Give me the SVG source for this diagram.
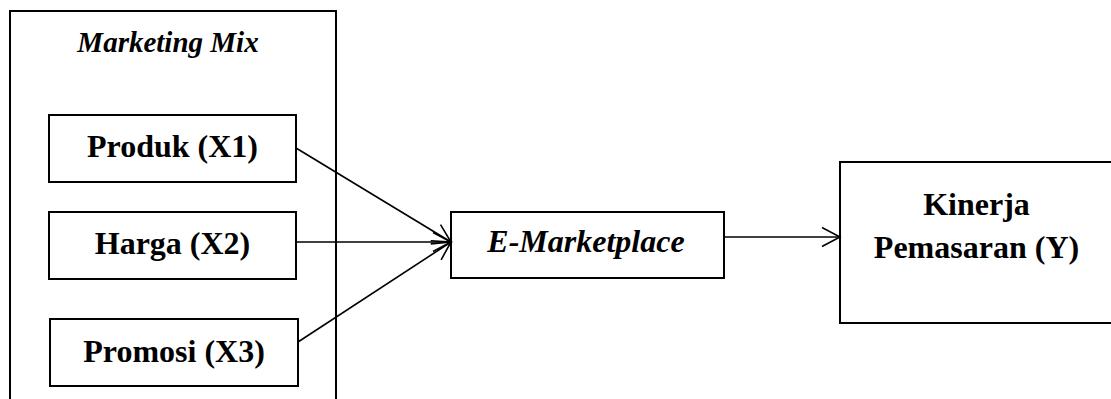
<svg xmlns="http://www.w3.org/2000/svg" width="1111" height="399" viewBox="0 0 1111 399">
  <style>
    .box { fill: #ffffff; stroke: #000000; stroke-width: 2; }
    .lbl { font-family: "Liberation Serif", "Times New Roman", serif; font-weight: bold; font-size: 32px; fill: #000000; text-anchor: middle; }
    .ital { font-style: italic; }
    .conn { stroke: #000000; stroke-width: 1.6; fill: none; marker-end: url(#arrow); }
  </style>
  <defs>
    <marker id="arrow" markerUnits="userSpaceOnUse" markerWidth="22" markerHeight="22" viewBox="0 0 22 22" refX="20" refY="11" orient="auto">
      <path d="M2,1.5 L20,11 L2,20.5" fill="none" stroke="#000000" stroke-width="1.6"/>
    </marker>
  </defs>
  <rect width="1111" height="399" fill="#ffffff"/>

  <g id="marketing-mix">
    <rect class="box" x="10" y="11" width="326" height="400"/>
    <text class="lbl ital" x="168" y="52" style="font-size:29px">Marketing Mix</text>
  </g>

  <g id="produk">
    <rect class="box" x="49" y="115" width="247" height="67"/>
    <text class="lbl" x="172.5" y="157">Produk (X1)</text>
  </g>

  <g id="harga">
    <rect class="box" x="49" y="212" width="247" height="67"/>
    <text class="lbl" x="172.5" y="254">Harga (X2)</text>
  </g>

  <g id="promosi">
    <rect class="box" x="50" y="319" width="248" height="67"/>
    <text class="lbl" x="174" y="362">Promosi (X3)</text>
  </g>

  <g id="e-marketplace">
    <rect class="box" x="451" y="212" width="273" height="66"/>
    <text class="lbl ital" x="586" y="252">E-Marketplace</text>
  </g>

  <g id="kinerja">
    <rect class="box" x="840" y="162" width="273" height="161"/>
    <text class="lbl" x="976.5" y="215">Kinerja</text>
    <text class="lbl" x="976.5" y="258">Pemasaran (Y)</text>
  </g>

  <g id="connectors">
    <line class="conn" x1="296" y1="148" x2="451" y2="242"/>
    <line class="conn" x1="296" y1="242" x2="451" y2="242"/>
    <line class="conn" x1="298" y1="342" x2="451" y2="242"/>
    <line class="conn" x1="724" y1="237" x2="840" y2="237"/>
  </g>
</svg>
